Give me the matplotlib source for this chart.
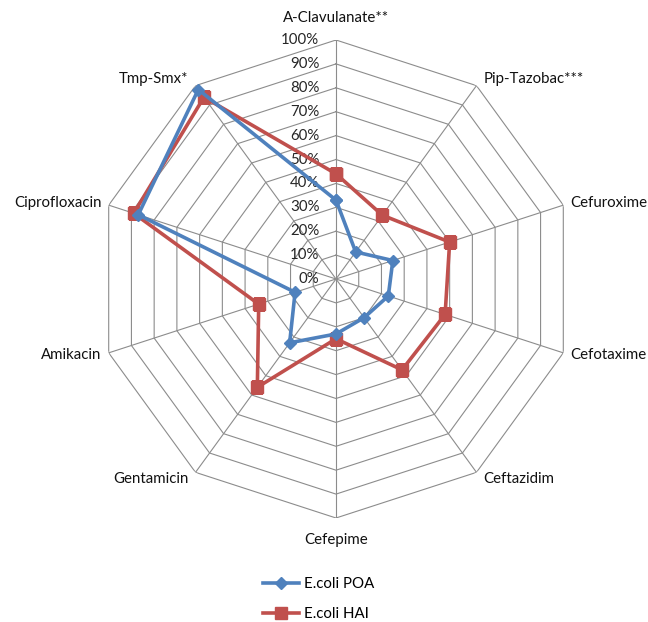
import matplotlib
matplotlib.use('Agg')
import matplotlib.pyplot as plt
import numpy as np

# データ
categories = ['A-Clavulanate**', 'Pip-Tazobac***', 'Cefuroxime', 'Cefotaxime',
              'Ceftazidim', 'Cefepime', 'Gentamicin', 'Amikacin',
              'Ciprofloxacin', 'Tmp-Smx*']
poa = [33, 14, 25, 23, 20, 23, 33, 18, 87, 98]     # E.coli POA (%)
hai = [44, 33, 50, 48, 47, 25, 56, 34, 89, 94]     # E.coli HAI (%)
ring_labels = ['0%', '10%', '20%', '30%', '40%', '50%', '60%', '70%', '80%', '90%', '100%']

plt.rcParams['font.family'] = ['Lato', 'DejaVu Sans']

fig = plt.figure(figsize=(6.48, 6.22), dpi=100)
# 中心 (336, 279) px, 半径 239 px
cx, cy, rad = 336 / 648, 1 - 279 / 622, 239
ax = fig.add_axes([cx - rad / 648, cy - rad / 622, 2 * rad / 648, 2 * rad / 622],
                  projection='polar')
ax.set_theta_offset(np.pi / 2)
ax.set_theta_direction(-1)
ax.set_ylim(0, 100)
ax.axis('off')

n = len(categories)
theta = np.arange(n) * 2 * np.pi / n
theta_c = np.append(theta, theta[0])

# 多角形のグリッド
for k in range(1, 11):
    ax.plot(theta_c, [k * 10] * (n + 1), color='#8c8c8c', lw=0.8, zorder=1)
for t in theta:
    ax.plot([t, t], [0, 100], color='#8c8c8c', lw=0.8, zorder=1)

# 目盛りラベル
for k, lab in enumerate(ring_labels):
    ax.annotate(lab, xy=(0, k * 10), xytext=(-12, 0), textcoords='offset points',
                ha='right', va='center', fontsize=10.8, color='#262626')

# カテゴリラベル
for t, lab in zip(theta, categories):
    s, c = np.sin(t), np.cos(t)
    if abs(s) < 0.1:
        ha = 'center'
        va = 'bottom' if c > 0 else 'top'
        off = (0, 11 if c > 0 else -11)
    else:
        ha = 'left' if s > 0 else 'right'
        va = 'center'
        off = (5 * np.sign(s), 6 * c)
    ax.annotate(lab, xy=(t, 100), xytext=off, textcoords='offset points',
                ha=ha, va=va, fontsize=10.8, color='#111111')

# 系列
ax.plot(theta_c, hai + hai[:1], color='#C0504D', lw=2.6, marker='s', ms=8,
        label='E.coli HAI', zorder=3)
ax.plot(theta_c, poa + poa[:1], color='#4F81BD', lw=2.6, marker='D', ms=6,
        label='E.coli POA', zorder=4)

h, l = ax.get_legend_handles_labels()
fig.legend(h[::-1], l[::-1], loc='upper left', bbox_to_anchor=(0.395, 0.084),
           frameon=False, fontsize=10.8, handlelength=2.4, handletextpad=0.3,
           labelspacing=1.05, borderpad=0)

plt.savefig('out.png', dpi=100)
